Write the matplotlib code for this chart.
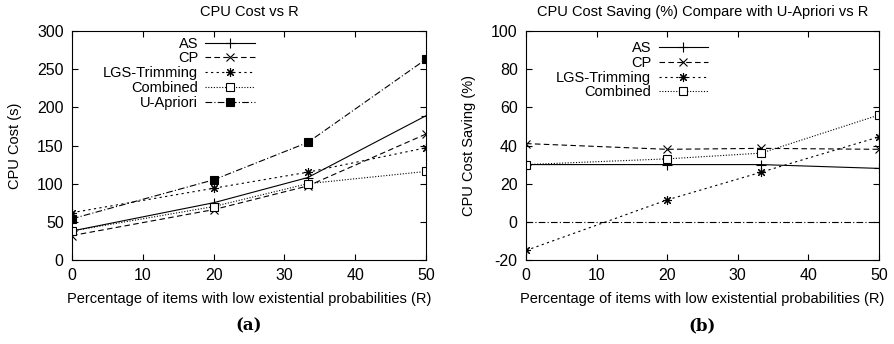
import matplotlib
matplotlib.use('Agg')
import matplotlib.pyplot as plt

plt.rcParams['font.family'] = ['Liberation Sans', 'DejaVu Sans']
plt.rcParams['font.size'] = 10.5
plt.rcParams['axes.unicode_minus'] = False

# x values: percentage of items with low existential probabilities
r_vals = [0, 20, 33.3, 50]

# CPU cost (s)
cost_as = [38, 75, 108, 189]
cost_cp = [32, 66, 97, 165]
cost_lgs = [62, 94, 115, 147]
cost_comb = [38, 70, 100, 116]
cost_uap = [54, 105, 154, 263]

# CPU cost saving (%) compared with U-Apriori
save_as = [30, 30, 30, 28]
save_cp = [41, 38, 38.5, 38]
save_lgs = [-15, 11.5, 26, 44.5]
save_comb = [30, 33, 36, 56]
save_uap = [0, 0, 0, 0]

fig = plt.figure(figsize=(8.95, 3.44), dpi=100)
W, H = 895, 344
ax1 = fig.add_axes([72 / W, 1 - 260 / H, (426 - 72) / W, (260 - 31) / H])
ax2 = fig.add_axes([526 / W, 1 - 260 / H, (879 - 526) / W, (260 - 31) / H])

lw = 0.8
styles = {
    'AS': dict(ls='-', marker='+', ms=7),
    'CP': dict(ls=(0, (5, 3)), marker='x', ms=5.5),
    'LGS-Trimming': dict(ls=(0, (2, 3)), marker=(8, 2, 0), ms=6.5),
    'Combined': dict(ls=(0, (1, 1.5)), marker='s', ms=6, mfc='white'),
    'U-Apriori': dict(ls=(0, (6, 2, 1, 2)), marker='s', ms=6, mfc='black'),
}

for name, ys in [('AS', cost_as), ('CP', cost_cp), ('LGS-Trimming', cost_lgs),
                 ('Combined', cost_comb), ('U-Apriori', cost_uap)]:
    ax1.plot(r_vals, ys, color='black', lw=lw, mec='black', mew=0.8,
             label=name, **styles[name])

for name, ys in [('AS', save_as), ('CP', save_cp), ('LGS-Trimming', save_lgs),
                 ('Combined', save_comb)]:
    ax2.plot(r_vals, ys, color='black', lw=lw, mec='black', mew=0.8,
             label=name, **styles[name])
ax2.plot(r_vals, save_uap, color='black', lw=lw, ls=(0, (6, 2, 1, 2)))

ax1.set_xlim(0, 50)
ax1.set_ylim(0, 300)
ax1.set_yticks(range(0, 301, 50))
ax2.set_xlim(0, 50)
ax2.set_ylim(-20, 100)
ax2.set_yticks(range(-20, 101, 20))

for ax, anchor in ((ax1, (0.517, 0.975)), (ax2, (0.516, 0.955))):
    ax.set_xticks(range(0, 51, 10))
    ax.tick_params(direction='in', top=True, right=True, length=4, width=0.8,
                   pad=6, labelsize=11.5)
    for s in ax.spines.values():
        s.set_linewidth(0.8)
    ax.set_xlabel('Percentage of items with low existential probabilities (R)', labelpad=6)
    ax.legend(loc='upper right', bbox_to_anchor=anchor, frameon=False,
              markerfirst=False, handlelength=3.4, labelspacing=0.05,
              handletextpad=0.5, borderpad=0, borderaxespad=0)

ax1.set_ylabel('CPU Cost (s)', labelpad=11)
ax2.set_ylabel('CPU Cost Saving (%)', labelpad=11)
ax1.set_title('CPU Cost vs R', fontsize=10.5, pad=11)
ax2.set_title('CPU Cost Saving (%) Compare with U-Apriori vs R', fontsize=10.5, pad=11)

fig.text((72 + 426) / 2 / W, 1 - 326 / H, '(a)', ha='center', va='center',
         family='DejaVu Serif', weight='bold', fontsize=12)
fig.text((526 + 879) / 2 / W, 1 - 326 / H, '(b)', ha='center', va='center',
         family='DejaVu Serif', weight='bold', fontsize=12)

fig.savefig('out.png', dpi=100)
